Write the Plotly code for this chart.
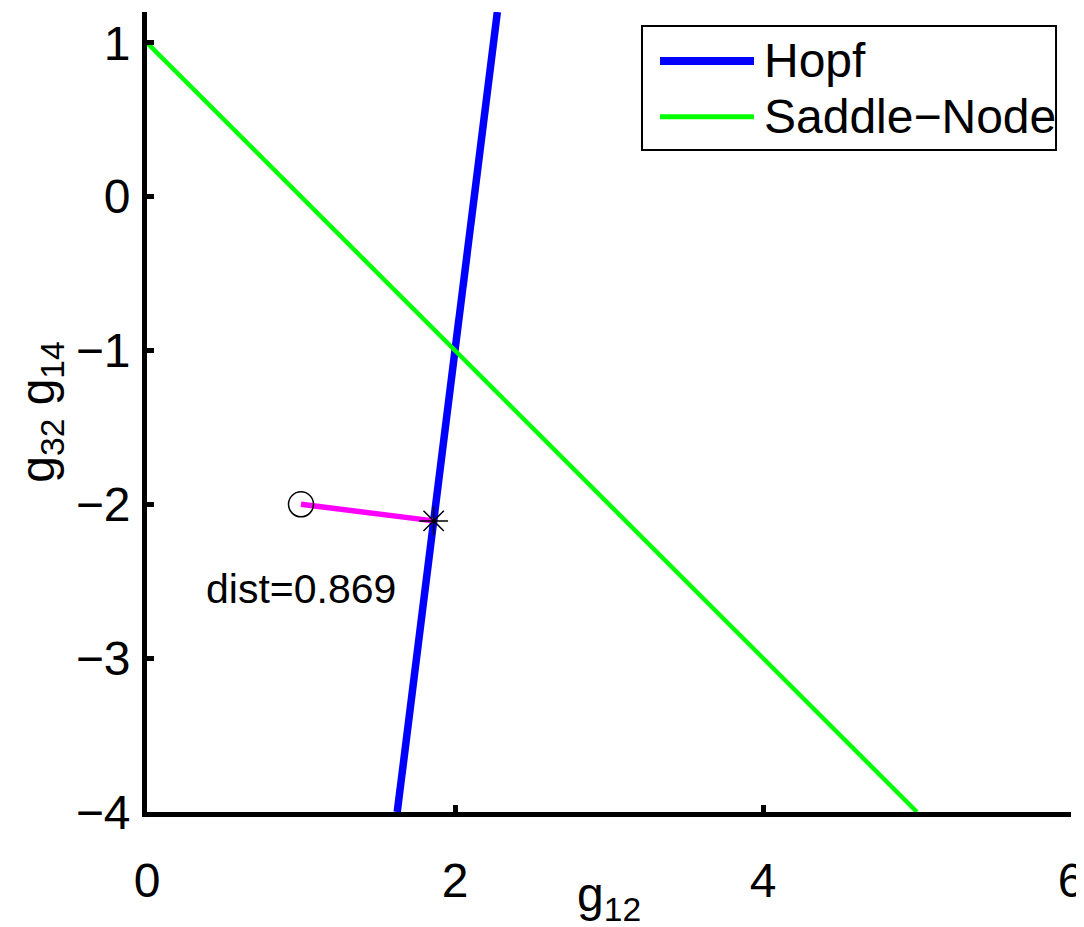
import plotly.graph_objects as go

# Data
hopf_x = [1.625, 2.275]
hopf_y = [-4.0, 1.2]
sn_x = [0.0, 5.0]
sn_y = [1.0, -4.0]
point_x = [1.0]
point_y = [-2.0]
nearest_x = [1.8615]
nearest_y = [-2.1077]
dist_label = "dist=0.869"
dist_pos = (1.0, -2.55)
x_ticks = [0, 2, 4, 6]
y_ticks = [-4, -3, -2, -1, 0, 1]
legend_names = ["Hopf", "Saddle\u2212Node"]
x_title = "g<sub>12</sub>"
y_title = "g<sub>32</sub> g<sub>14</sub>"
HOPF_C = "#0000ff"
SN_C = "#00ff00"

FONT = "Liberation Sans, Arial, Helvetica, sans-serif"

fig = go.Figure()
fig.add_trace(go.Scatter(x=hopf_x, y=hopf_y, mode="lines", name=legend_names[0],
                         showlegend=False, line=dict(color=HOPF_C, width=7.5)))
fig.add_trace(go.Scatter(x=sn_x, y=sn_y, mode="lines", name=legend_names[1],
                         showlegend=False, line=dict(color=SN_C, width=4.5)))
fig.add_trace(go.Scatter(x=point_x + nearest_x, y=point_y + nearest_y, mode="lines",
                         showlegend=False, line=dict(color="#ff00ff", width=5.5)))
fig.add_trace(go.Scatter(x=point_x, y=point_y, mode="markers", showlegend=False,
                         marker=dict(symbol="circle-open", size=25, color="black",
                                     line=dict(width=1.5, color="black"))))
fig.add_trace(go.Scatter(x=nearest_x, y=nearest_y, mode="markers", showlegend=False,
                         marker=dict(symbol="asterisk-open", size=24, color="black",
                                     line=dict(width=1.5, color="black"))))

fig.add_annotation(x=dist_pos[0], y=dist_pos[1], text=dist_label, showarrow=False,
                   font=dict(family=FONT, size=41, color="black"))

# Axis titles as annotations (exact placement)
fig.add_annotation(xref="paper", yref="paper", x=0.5, y=-0.107, text=x_title,
                   xanchor="center", yanchor="middle", showarrow=False,
                   font=dict(family=FONT, size=48, color="black"))
fig.add_annotation(xref="paper", yref="paper", x=-0.115, y=0.5, text=y_title,
                   textangle=-90, xanchor="center", yanchor="middle", showarrow=False,
                   font=dict(family=FONT, size=48, color="black"))

# Legend box (drawn by hand so the key lines have the reference length)
fig.add_shape(type="rect", xref="paper", yref="paper",
              x0=0.5357, x1=0.9838, y0=0.8275, y1=0.9825,
              line=dict(color="black", width=2), fillcolor="white", layer="above")
leg_rows = [(0.9388, HOPF_C, 8), (0.8692, SN_C, 5)]
for (yy, col, w), name in zip(leg_rows, legend_names):
    fig.add_shape(type="line", xref="paper", yref="paper",
                  x0=0.5552, x1=0.6569, y0=yy, y1=yy,
                  line=dict(color=col, width=w), layer="above")
    fig.add_annotation(xref="paper", yref="paper", x=0.6655, y=yy, text=name,
                       xanchor="left", yanchor="middle", showarrow=False,
                       font=dict(family=FONT, size=48, color="black"))

axis_common = dict(showgrid=False, zeroline=False, showline=True, linecolor="black",
                   linewidth=5, ticks="inside", ticklen=7, tickwidth=4.5,
                   tickcolor="black", automargin=False, ticklabeloverflow="allow",
                   tickfont=dict(family=FONT, size=48, color="black"))

# The page body adds an 8px offset, so the figure is 8px smaller on each axis
fig.update_layout(
    width=1076, height=919,
    margin=dict(l=139, r=13, t=4, b=115),
    paper_bgcolor="white", plot_bgcolor="white",
    font=dict(family=FONT, color="black"),
    showlegend=False,
)
fig.update_xaxes(range=[0, 6], tickvals=x_ticks, **axis_common, ticklabelstandoff=22)
fig.update_yaxes(range=[-4, 1.2], tickvals=y_ticks, **axis_common, ticklabelstandoff=2)

fig.write_html("out.html")
